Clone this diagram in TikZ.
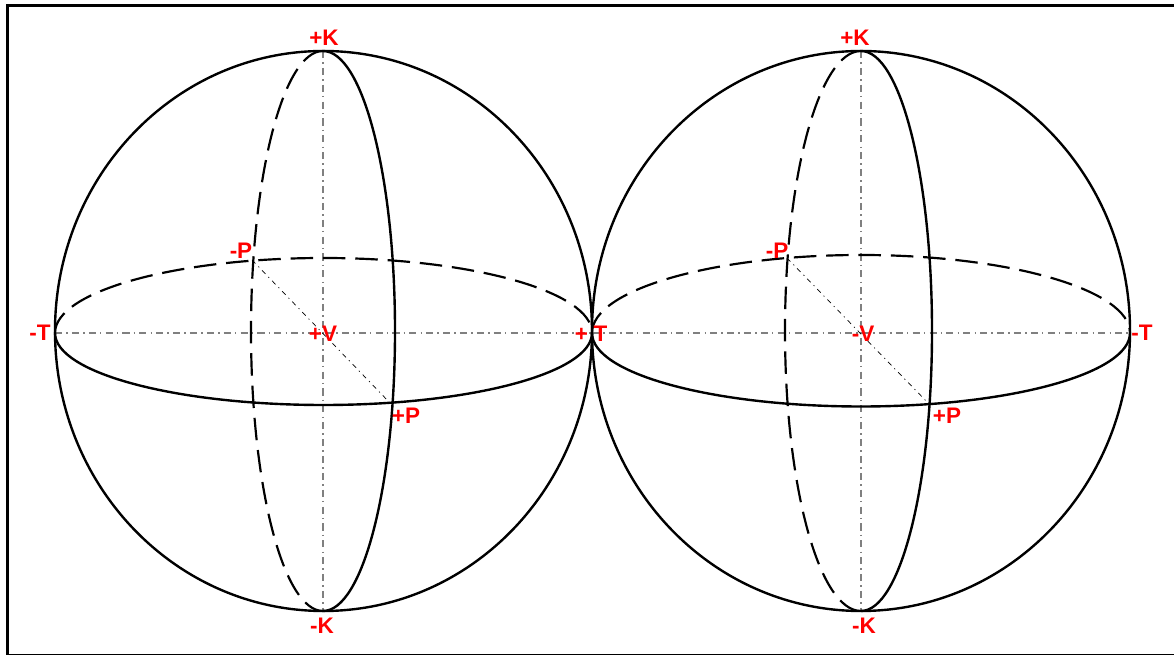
\documentclass[tikz,border=0pt]{standalone}
\usepackage{fontspec}
\setmainfont{Liberation Sans}
\usepackage{xcolor}
\usetikzlibrary{positioning, calc}

\begin{document}
\begin{tikzpicture}[x=0.025cm, y=0.025cm,
        outline/.style={draw=black, line width=1.7pt},
        hidden/.style={draw=black, line width=1.55pt, dash pattern=on 16pt off 7pt},
        axis/.style={draw=gray, line width=0.85pt, dash pattern=on 5pt off 3pt on 1pt off 3pt},
        diag/.style={draw=black, line width=0.5pt, dash pattern=on 3.5pt off 3pt on 0.8pt off 3pt},
        pole/.style={text=red, font=\bfseries\fontsize{16}{16}\selectfont, inner sep=0pt}]

        \useasboundingbox (0,0) rectangle (1174,655);
        \draw[black, line width=1.6pt] (1174,649.5) -- (7.5,649.5) -- (7.5,-0.3) -- (1174,-0.3);

        % left sphere
        \coordinate (ltop) at (323,604);
        \coordinate (lbot) at (323,44);
        \coordinate (lwest) at (55,322);
        \coordinate (least) at (592,322);
        \coordinate (lmin) at (252,395);
        \coordinate (lplus) at (391,251);

        \draw[axis] (ltop) -- (lbot);
        \draw[axis] (lwest) -- (least);
        \draw[diag] (lmin) -- (lplus);

        \draw[outline] (323.5,324) ellipse [x radius=268.5, y radius=280];
        \draw[outline] (lwest) arc [start angle=180, end angle=360, x radius=268.5, y radius=72];
        \draw[hidden] (lwest) arc [start angle=180, end angle=0, x radius=268.5, y radius=75];
        \draw[outline] (ltop) arc [start angle=90, end angle=-90, x radius=72, y radius=280];
        \draw[hidden] (ltop) arc [start angle=90, end angle=270, x radius=72, y radius=280];

        % right sphere
        \coordinate (rtop) at (861,604);
        \coordinate (rbot) at (861,44);
        \coordinate (rwest) at (592,322);
        \coordinate (reast) at (1130,322);
        \coordinate (rmin) at (787,397);
        \coordinate (rplus) at (929,251);

        \draw[axis] (rtop) -- (rbot);
        \draw[axis] (rwest) -- (reast);
        \draw[diag] (rmin) -- (rplus);

        \draw[outline] (861,324) ellipse [x radius=269, y radius=280];
        \draw[outline] (rwest) arc [start angle=180, end angle=360, x radius=269, y radius=73.5];
        \draw[hidden] (rwest) arc [start angle=180, end angle=0, x radius=269, y radius=78];
        \draw[outline] (rtop) arc [start angle=90, end angle=-90, x radius=71, y radius=280];
        \draw[hidden] (rtop) arc [start angle=90, end angle=270, x radius=76, y radius=280];

        \node[pole] (lk1) at (324,617) {+K};
        \node[pole] (lk2) at (322,29) {-K};
        \node[pole] (lt1) at (40,322) {-T};
        \node[pole] (lt2) at (591,321) {+\kern4pt T};
        \node[pole] (lv) at (323,321) {+V};
        \node[pole] (lp1) at (406,239) {+P};
        \node[pole] (lp2) at (241,404) {-P};

        \node[pole] (rk1) at (855,617) {+K};
        \node[pole] (rk2) at (864,29) {-K};
        \node[pole] (rt) at (1142,322) {-T};
        \node[pole] (rv) at (863,321) {-V};
        \node[pole] (rp1) at (947,239) {+P};
        \node[pole] (rp2) at (777,404) {-P};
      \end{tikzpicture}
\end{document}
